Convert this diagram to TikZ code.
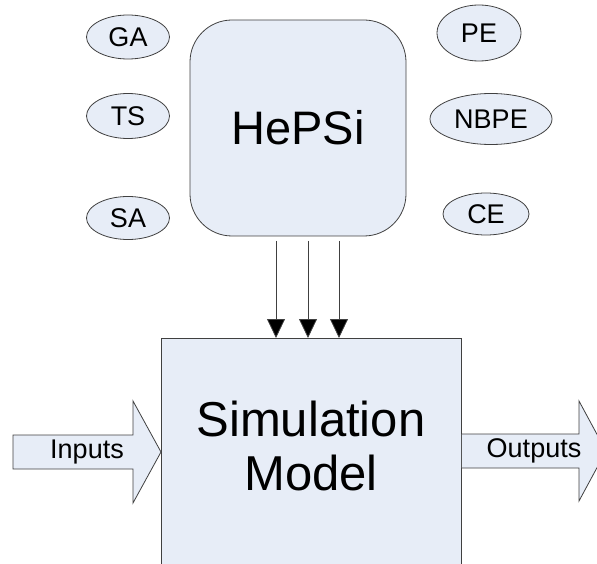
\documentclass[tikz,border=0pt]{standalone}
\usepackage{fontspec}
\setmainfont{Liberation Sans}
\usetikzlibrary{shapes.geometric,arrows.meta}
\definecolor{boxfill}{RGB}{231,237,247}
\definecolor{edge}{RGB}{64,64,64}
\tikzset{
  oval/.style={ellipse,draw=edge,fill=boxfill,line width=0.8pt,inner sep=0pt,font=\fontsize{27}{30}\selectfont},
  bigbox/.style={draw=edge,fill=boxfill,line width=0.8pt,inner sep=0pt},
  blockarrow/.style={draw=edge,fill=boxfill,line width=0.8pt,line join=miter},
  feed/.style={draw=edge,line width=0.8pt,-{Triangle[length=19pt,width=18pt,fill=black]}},
  lbl/.style={font=\fontsize{27}{30}\selectfont,inner sep=0pt}
}
\begin{document}
\begin{tikzpicture}[x=1pt,y=-1pt]
\useasboundingbox (0,0) rectangle (597,564);
\clip (0,0) rectangle (597,564);
% ellipses
\node[oval,minimum width=83,minimum height=44] (ga) at (128,37) {GA};
\node[oval,minimum width=83,minimum height=45] (ts) at (128,116) {TS};
\node[oval,minimum width=83,minimum height=43] (sa) at (128,218) {SA};
\node[oval,minimum width=84,minimum height=56] (pe) at (479,33) {PE};
\node[oval,minimum width=122,minimum height=51] (nbpe) at (491,119) {NBPE};
\node[oval,minimum width=86,minimum height=42] (ce) at (486,214) {CE};
% HePSi
\node[bigbox,rounded corners=42,minimum width=216,minimum height=216,font=\fontsize{47}{52}\selectfont] (hepsi) at (298,128) {HePSi};
% Simulation model
\node[bigbox,minimum width=300,minimum height=260,anchor=north west] (sim) at (161,338) {};
\node[font=\fontsize{49}{58}\selectfont,align=center,inner sep=0pt] (simtext) at (311,446) {Simulation\\[-4pt]Model};
% feed arrows
\coordinate (s1) at (276,241); \coordinate (s2) at (308,241); \coordinate (s3) at (339,241);
\draw[feed] (s1) -- (s1 |- sim.north);
\draw[feed] (s2) -- (s2 |- sim.north);
\draw[feed] (s3) -- (s3 |- sim.north);
% Inputs block arrow
\draw[blockarrow] (13,435) -- (133,435) -- (133,401) -- (sim.west |- 0,452) -- (133,503) -- (133,469) -- (13,469) -- cycle;
\node[lbl] (inputs) at (87,452) {Inputs};
% Outputs block arrow
\draw[blockarrow] (sim.east |- 0,434) -- (579,434) -- (579,401) -- (606,451) -- (579,501) -- (579,468) -- (sim.east |- 0,468);
\node[lbl] (outputs) at (534,451) {Outputs};
\end{tikzpicture}
\end{document}
